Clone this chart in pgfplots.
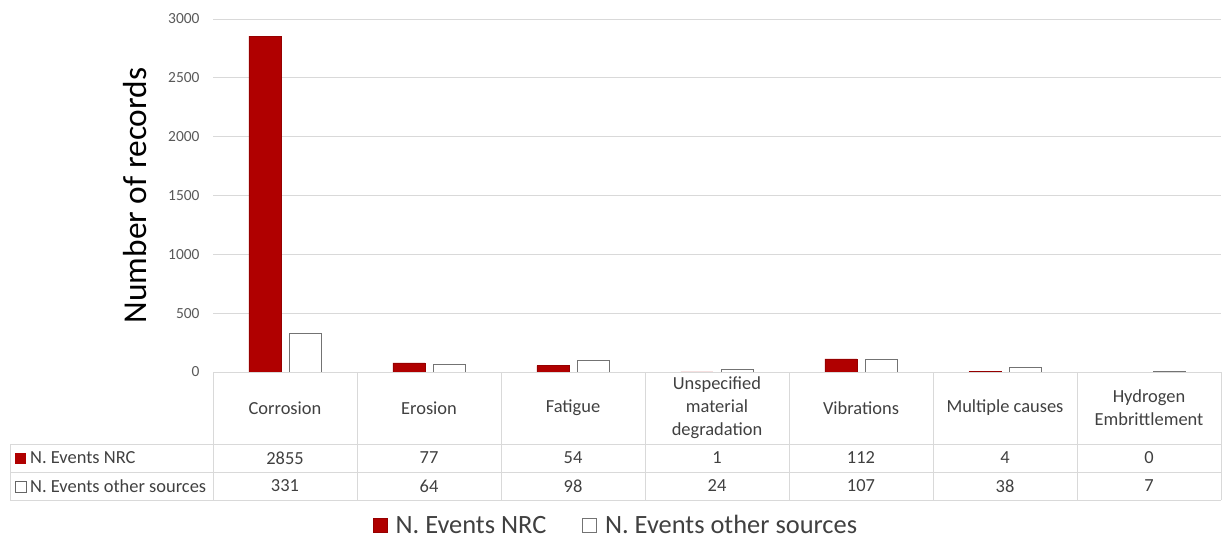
\documentclass[border=0pt]{standalone}
\usepackage{fontspec}
\setmainfont{Carlito}
\usepackage{pgfplots}
\pgfplotsset{compat=1.18}
\definecolor{nrc}{HTML}{B00000}
\definecolor{gridc}{HTML}{D9D9D9}
\definecolor{tickc}{HTML}{595959}
\definecolor{txt}{HTML}{404040}
\begin{document}
\begin{tikzpicture}
\path[use as bounding box] (0,0) rectangle (1223bp,-540bp);
\begin{axis}[
  at={(213bp,-372bp)}, anchor=south west,
  width=1008bp, height=353bp, scale only axis,
  xmin=0, xmax=7, ymin=0, ymax=3000,
  axis line style={draw=none},
  xtick=\empty,
  ytick={0,500,...,3000},
  ymajorgrids, grid style={gridc, line width=0.9bp},
  major tick length=0pt,
  /pgf/number format/1000 sep={},
  /pgf/number format/assume math mode=true,
  yticklabel style={font=\fontsize{15.5}{18}\selectfont, text=tickc, xshift=-10bp},
  ylabel={Number of records},
  every axis y label/.style={at={(axis description cs:-0.0774,0.5)}, rotate=90, anchor=center, font=\fontsize{33.5}{36}\selectfont, text=black},
  ybar=8bp, bar width=32bp,
  clip=false,
  legend columns=2,
  legend style={at={(axis description cs:0.3998,-0.434)}, anchor=center, draw=none, fill=none,
    font=\fontsize{26.5}{30}\selectfont, text=txt,
    /tikz/every odd column/.append style={column sep=6bp},
    /tikz/every even column/.append style={column sep=34bp}},
  legend image code/.code={\draw[#1, line width=0.75bp] (0bp,-7bp) rectangle (14bp,7bp);},
]
\addplot[fill=nrc, draw=nrc!85!black, line width=0.4bp] coordinates {(0.5,2855) (1.5,77) (2.5,54) (3.5,1) (4.5,112) (5.5,4) (6.5,0)};
\addplot[fill=white, draw=black!55, line width=0.9bp] coordinates {(0.5,331) (1.5,64) (2.5,98) (3.5,24) (4.5,107) (5.5,38) (6.5,7)};
\legend{N. Events NRC, N. Events other sources}
\end{axis}
% data table grid
\begin{scope}[gridc, line width=0.9bp]
\draw (213bp,-372bp) -- (1221bp,-372bp);
\foreach \y in {444,472,500} \draw (10bp,-\y bp) -- (1221bp,-\y bp);
\draw (10bp,-444bp) -- (10bp,-500bp);
\foreach \k in {0,...,7} \draw ({(213+144*\k)*1bp},-372bp) -- ({(213+144*\k)*1bp},-500bp);
\end{scope}
\begin{scope}[every node/.style={font=\fontsize{18.5}{23}\selectfont, text=txt, align=center, inner sep=0pt}]
\node at (285bp,-408bp) {Corrosion};
\node at (429bp,-408bp) {Erosion};
\node at (573bp,-408bp) {Fatigue};
\node at (717bp,-408bp) {Unspecified\\material\\degradation};
\node at (861bp,-408bp) {Vibrations};
\node at (1005bp,-408bp) {Multiple causes};
\node at (1149bp,-408bp) {Hydrogen\\Embrittlement};
\foreach \x/\v in {285/2855,429/77,573/54,717/1,861/112,1005/4,1149/0} \node at (\x bp,-458bp) {\v};
\foreach \x/\v in {285/331,429/64,573/98,717/24,861/107,1005/38,1149/7} \node at (\x bp,-486bp) {\v};
\node[anchor=west] at (30bp,-458bp) {N. Events NRC};
\node[anchor=west] at (30bp,-486bp) {N. Events other sources};
\end{scope}
\fill[nrc] (15bp,-453bp) rectangle (26bp,-464bp);
\draw[black!60, line width=0.8bp] (15bp,-481bp) rectangle (26bp,-492bp);
\end{tikzpicture}
\end{document}
